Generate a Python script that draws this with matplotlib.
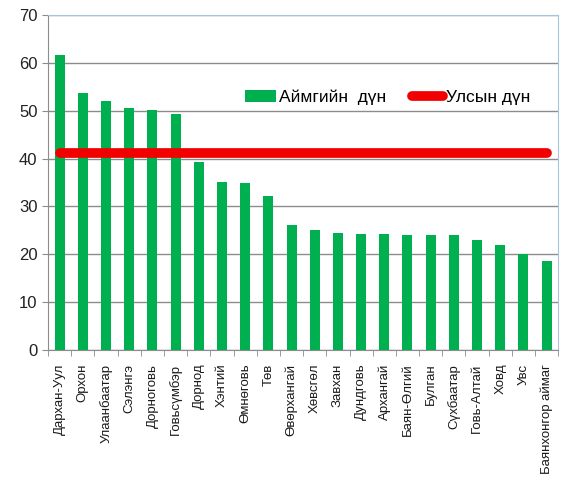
import matplotlib
matplotlib.use('Agg')
from matplotlib import pyplot as plt
import numpy as np

aimags = ['Дархан-Уул', 'Орхон', 'Улаанбаатар', 'Сэлэнгэ', 'Дорноговь', 'Говьсүмбэр',
          'Дорнод', 'Хэнтий', 'Өмнөговь', 'Төв', 'Өвөрхангай', 'Хөвсгөл', 'Завхан',
          'Дундговь', 'Архангай', 'Баян-Өлгий', 'Булган', 'Сүхбаатар', 'Говь-Алтай',
          'Ховд', 'Увс', 'Баянхонгор аймаг']
aimag_values = [61.6, 53.7, 52.0, 50.5, 50.1, 49.3, 39.3, 35.1, 34.9, 32.2, 26.1, 25.0,
                24.4, 24.2, 24.2, 24.0, 24.0, 24.0, 23.0, 22.0, 20.0, 18.6]
national_value = 41.2

plt.rcParams['font.family'] = ['Liberation Sans', 'DejaVu Sans']

figure = plt.figure(figsize=(5.65, 4.82), dpi=100)
axes = figure.add_axes([0.085, 0.274, 0.903, 0.695])

x = np.arange(len(aimags))
bars = axes.bar(x, aimag_values, width=0.43, color='#00B050', label='Аймгийн  дүн', zorder=3)
line, = axes.plot([x[0], x[-1]], [national_value, national_value], color='#F20000', lw=7,
                  solid_capstyle='round', label='Улсын дүн', zorder=4)

axes.set_xlim(-0.5, len(aimags) - 0.5)
axes.set_ylim(0, 70)
axes.set_yticks(range(0, 71, 10))
axes.yaxis.grid(True, color='#8c8c8c', lw=1, zorder=0)
axes.set_axisbelow(True)

axes.set_xticks(x)
axes.set_xticklabels(aimags, rotation=90, fontsize=9.5, color='#1a1a1a')
axes.set_xticks(np.arange(-0.5, len(aimags)), minor=True)
axes.tick_params(axis='x', which='major', length=0, pad=10)
axes.tick_params(axis='x', which='minor', length=4, color='#8c8c8c')
axes.tick_params(axis='y', labelsize=12, length=4, color='#8c8c8c', labelcolor='#222222')

for side in ['top', 'right']:
    axes.spines[side].set_color('#a8c4dc')
axes.spines['left'].set_color('#8c8c8c')
axes.spines['bottom'].set_color('#8c8c8c')

axes.legend(handles=[bars, line], loc='upper right', bbox_to_anchor=(0.975, 0.825), ncol=2,
            frameon=False, fontsize=12.5, handlelength=1.8, handletextpad=0.15,
            columnspacing=1.5)

figure.savefig('out.png', dpi=100)
